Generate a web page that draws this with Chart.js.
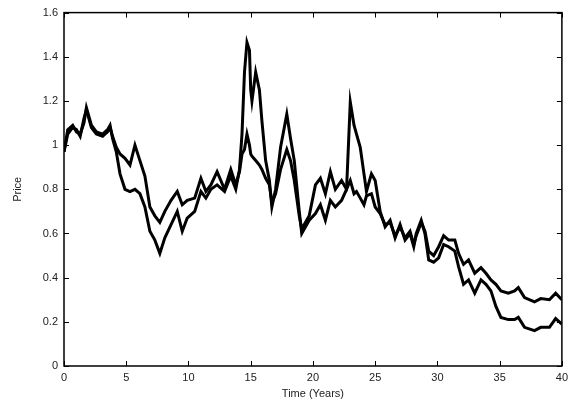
<!DOCTYPE html>
<html>
<head>
<meta charset="utf-8">
<script src="https://cdn.jsdelivr.net/npm/chart.js@4/dist/chart.umd.min.js"></script>
<style>
  html, body { margin: 0; padding: 0; background: #fff; }
  #wrap { width: 573px; height: 406px; }
</style>
</head>
<body>
<div id="wrap"><canvas id="priceChart"></canvas></div>
<script>
// sample times (years)
const times = [0, 0.3, 0.7, 1.0, 1.3, 1.6, 1.8, 2.0, 2.2, 2.6, 3.1, 3.5, 3.7, 3.9, 4.2, 4.5, 4.9, 5.3, 5.7, 6.1,
  6.5, 6.9, 7.3, 7.7, 8.1, 8.6, 9.1, 9.5, 9.9, 10.5, 11.0, 11.4, 11.8, 12.3, 12.9, 13.4, 13.8, 14.1, 14.3, 14.5,
  14.7, 14.9, 15.0, 15.1, 15.4, 15.7, 15.9, 16.2, 16.5, 16.7, 17.0, 17.4, 17.9, 18.2, 18.5, 18.9, 19.1, 19.7, 20.2, 20.6,
  21.0, 21.4, 21.8, 22.3, 22.7, 23.0, 23.3, 23.5, 23.8, 24.1, 24.3, 24.7, 25.0, 25.4, 25.8, 26.2, 26.6, 27.0, 27.4, 27.8,
  28.1, 28.3, 28.7, 29.0, 29.3, 29.7, 30.1, 30.5, 30.9, 31.4, 31.7, 32.1, 32.5, 33.0, 33.5, 33.9, 34.3, 34.7, 35.1, 35.7,
  36.2, 36.5, 37.0, 37.8, 38.3, 39.0, 39.5, 40.0];

// path with the big spikes, ends low
const priceA = [0.97, 1.07, 1.09, 1.06, 1.05, 1.10, 1.17, 1.13, 1.09, 1.06, 1.05, 1.07, 1.09, 1.03, 0.97, 0.87, 0.80, 0.79, 0.80, 0.78,
  0.72, 0.61, 0.57, 0.51, 0.58, 0.64, 0.70, 0.61, 0.67, 0.70, 0.79, 0.76, 0.80, 0.82, 0.79, 0.86, 0.80, 0.89, 1.05, 1.33,
  1.465, 1.43, 1.25, 1.20, 1.33, 1.25, 1.11, 0.93, 0.84, 0.72, 0.80, 0.99, 1.14, 1.03, 0.93, 0.70, 0.60, 0.66, 0.69, 0.73,
  0.66, 0.75, 0.72, 0.75, 0.80, 1.195, 1.09, 1.05, 0.99, 0.87, 0.79, 0.87, 0.84, 0.70, 0.63, 0.66, 0.58, 0.64, 0.57, 0.60,
  0.54, 0.60, 0.66, 0.60, 0.48, 0.47, 0.49, 0.55, 0.54, 0.52, 0.45, 0.37, 0.39, 0.33, 0.39, 0.37, 0.34, 0.27, 0.22, 0.21,
  0.21, 0.22, 0.175, 0.16, 0.175, 0.175, 0.215, 0.19];

// calmer path, ends higher
const priceB = [0.97, 1.05, 1.08, 1.07, 1.04, 1.12, 1.16, 1.12, 1.08, 1.05, 1.04, 1.06, 1.08, 1.04, 0.99, 0.96, 0.94, 0.91, 1.00, 0.93,
  0.86, 0.72, 0.68, 0.65, 0.70, 0.75, 0.79, 0.73, 0.75, 0.76, 0.85, 0.79, 0.82, 0.88, 0.80, 0.89, 0.82, 0.88, 0.96, 0.98,
  1.05, 1.00, 0.96, 0.95, 0.93, 0.91, 0.89, 0.85, 0.82, 0.74, 0.78, 0.89, 0.98, 0.93, 0.84, 0.68, 0.62, 0.68, 0.82, 0.85,
  0.78, 0.88, 0.80, 0.84, 0.80, 0.84, 0.78, 0.79, 0.76, 0.73, 0.77, 0.78, 0.72, 0.69, 0.64, 0.65, 0.59, 0.63, 0.58, 0.61,
  0.55, 0.59, 0.65, 0.61, 0.52, 0.50, 0.54, 0.59, 0.57, 0.57, 0.51, 0.46, 0.48, 0.42, 0.445, 0.42, 0.39, 0.37, 0.34, 0.33,
  0.34, 0.355, 0.31, 0.29, 0.305, 0.30, 0.33, 0.30];

const xTicks = [0, 5, 10, 15, 20, 25, 30, 35, 40];
const yTicks = [0, 0.2, 0.4, 0.6, 0.8, 1, 1.2, 1.4, 1.6];

function toPoints(values) {
  return values.map((v, i) => ({ x: times[i], y: v }));
}

// gnuplot-like frame with inward ticks on all four sides
const framePlugin = {
  id: 'frame',
  afterDatasetsDraw(chart) {
    const { ctx, chartArea: a, scales } = chart;
    const len = 5;
    ctx.save();
    ctx.strokeStyle = '#000';
    ctx.lineWidth = 1;
    ctx.beginPath();
    xTicks.forEach(t => {
      const px = Math.round(scales.x.getPixelForValue(t)) + 0.5;
      ctx.moveTo(px, a.bottom); ctx.lineTo(px, a.bottom - len);
      ctx.moveTo(px, a.top); ctx.lineTo(px, a.top + len);
    });
    yTicks.forEach(t => {
      const py = Math.round(scales.y.getPixelForValue(t)) + 0.5;
      ctx.moveTo(a.left, py); ctx.lineTo(a.left + len, py);
      ctx.moveTo(a.right, py); ctx.lineTo(a.right - len, py);
    });
    ctx.stroke();
    ctx.lineWidth = 1.5;
    ctx.strokeRect(a.left, a.top, a.right - a.left, a.bottom - a.top);
    ctx.restore();
  }
};

const font = { family: '"Liberation Sans", Arial, sans-serif', size: 11 };

new Chart(document.getElementById('priceChart'), {
  type: 'line',
  data: {
    datasets: [
      { data: toPoints(priceA), borderColor: '#000', borderWidth: 3, pointRadius: 0, tension: 0 },
      { data: toPoints(priceB), borderColor: '#000', borderWidth: 3, pointRadius: 0, tension: 0 }
    ]
  },
  options: {
    responsive: true,
    maintainAspectRatio: false,
    animation: false,
    layout: { padding: { top: 10, right: 9, left: 0, bottom: 0 } },
    plugins: { legend: { display: false }, tooltip: { enabled: false } },
    scales: {
      x: {
        type: 'linear',
        min: 0, max: 40,
        afterBuildTicks(scale) { scale.ticks = xTicks.map(v => ({ value: v })); },
        afterFit(scale) { scale.height = 40; },
        grid: { display: false, drawTicks: false },
        border: { display: false },
        ticks: { font: font, color: '#222', padding: 5, maxRotation: 0, callback: v => String(v) },
        title: { display: true, text: 'Time (Years)', font: font, color: '#222', padding: { top: 5, bottom: 5 } }
      },
      y: {
        min: 0, max: 1.6,
        afterBuildTicks(scale) { scale.ticks = yTicks.map(v => ({ value: v })); },
        afterFit(scale) { scale.width = 64; },
        grid: { display: false, drawTicks: false },
        border: { display: false },
        ticks: { font: font, color: '#222', padding: 6, callback: v => String(v) },
        title: { display: true, text: 'Price', font: font, color: '#222', padding: { top: 11, bottom: 11 } }
      }
    }
  },
  plugins: [framePlugin]
});
</script>
</body>
</html>
